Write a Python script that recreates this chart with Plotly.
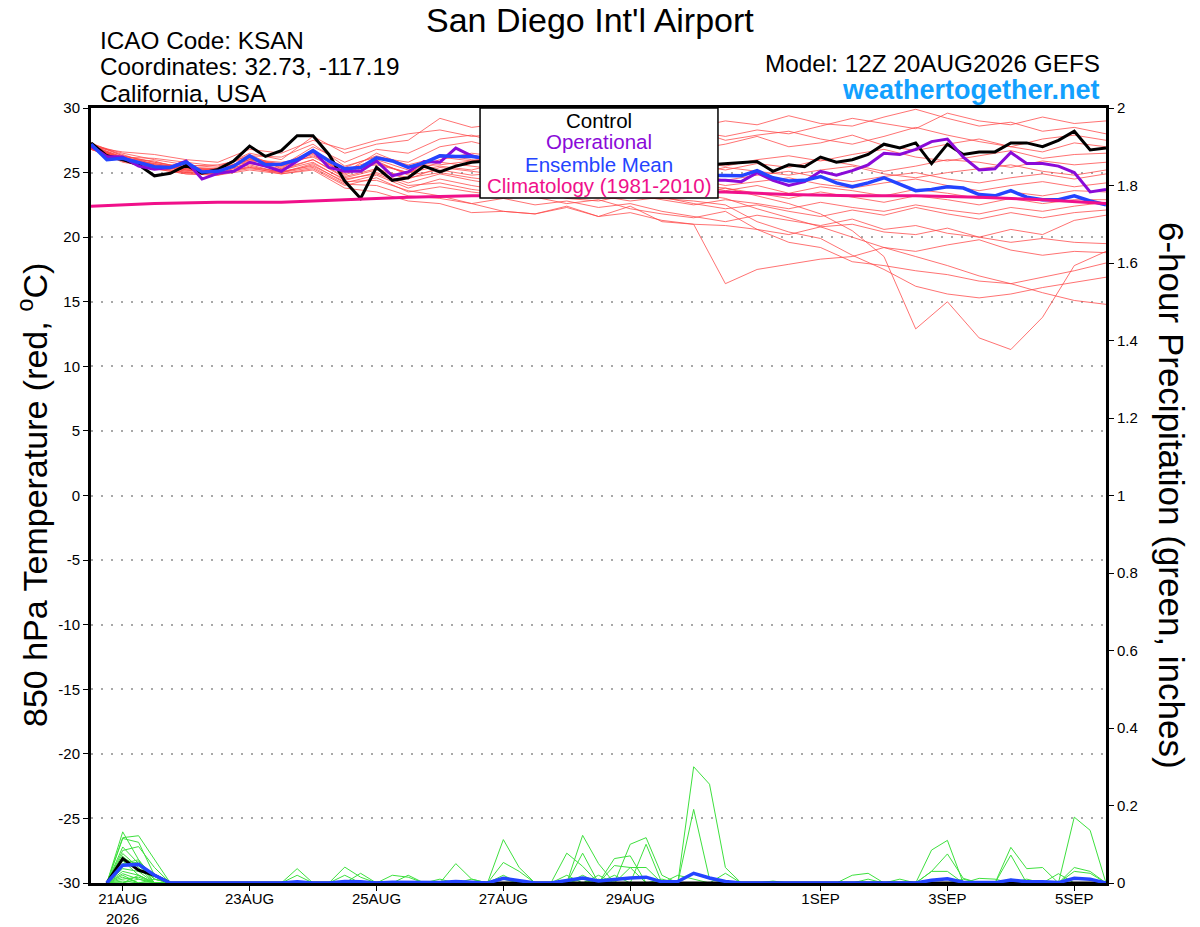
import pandas as pd
import plotly.graph_objects as go

# time axes: GEFS run 12Z 20AUG2026, 6-hourly (members drawn at 12h)
times6 = pd.date_range("2026-08-20 12:00", "2026-09-05 12:00", freq="6h")
times12 = pd.date_range("2026-08-20 12:00", "2026-09-05 12:00", freq="12h")
days = pd.date_range("2026-08-20 12:00", "2026-09-05 12:00", freq="24h")
precip_times = times6[1:]

tick_dates = ["2026-08-21", "2026-08-23", "2026-08-25", "2026-08-27",
              "2026-08-29", "2026-09-01", "2026-09-03", "2026-09-05"]
tick_text = ["21AUG<br>2026", "23AUG", "25AUG", "27AUG", "29AUG", "1SEP", "3SEP", "5SEP"]

# 850 hPa temperature (C), 6-hourly
control_t = [27.3, 26.3, 26.0, 25.6, 24.75, 24.95, 25.55, 24.95, 25.25, 25.9, 27.05,
             26.25, 26.7, 27.85, 27.85, 26.4, 24.35, 23.0, 25.4, 24.4, 24.6, 25.5,
             25.05, 25.5, 25.8, 25.9, 26.1, 25.8, 26.3, 26.0, 25.7, 26.2, 26.4,
             26.0, 25.6, 25.9, 26.1, 25.7, 25.4, 25.6, 25.7, 25.8, 25.85, 25.1,
             25.6, 25.45, 26.2, 25.8, 26.0, 26.4, 27.2, 26.9, 27.3, 25.7, 27.2,
             26.4, 26.6, 26.6, 27.3, 27.3, 27.0, 27.5, 28.2, 26.75, 26.9]
operational_t = [27.05, 26.25, 26.2, 25.5, 25.25, 25.4, 25.9, 24.5, 24.95, 25.1, 25.8,
                 25.5, 25.1, 25.9, 26.7, 25.4, 25.1, 25.1, 25.9, 24.75, 25.05, 25.85,
                 25.8, 26.9, 26.3, 26.0, 25.7, 25.9, 25.5, 25.2, 25.6, 25.3, 24.9,
                 25.1, 24.8, 24.6, 24.9, 24.5, 24.7, 24.4, 24.4, 24.3, 25.0, 24.4,
                 24.0, 24.3, 25.1, 24.8, 25.15, 25.6, 26.5, 26.4, 26.8, 27.4, 27.6,
                 26.2, 25.2, 25.3, 26.55, 25.7, 25.7, 25.5, 25.0, 23.5, 23.7]
mean_t = [27.2, 26.0, 26.1, 25.8, 25.45, 25.4, 25.8, 25.05, 25.1, 25.5, 26.3,
          25.6, 25.65, 26.0, 26.7, 25.9, 25.3, 25.4, 26.15, 25.9, 25.4, 25.75,
          26.3, 26.25, 26.25, 26.1, 25.9, 26.0, 25.8, 25.6, 25.7, 25.5, 25.3,
          25.4, 25.2, 25.1, 25.2, 24.9, 25.0, 24.8, 24.8, 24.75, 25.15, 24.6,
          24.35, 24.4, 24.7, 24.2, 23.9, 24.2, 24.6, 24.1, 23.6, 23.7, 23.9,
          23.8, 23.3, 23.2, 23.6, 23.1, 22.9, 22.9, 23.2, 22.8, 22.5]
# climatology (1981-2010), daily at 12Z
climo_t = [22.4, 22.6, 22.7, 22.7, 22.9, 23.1, 23.2, 23.2, 23.3, 23.5, 23.5,
           23.3, 23.2, 23.2, 23.1, 22.9, 22.6]

# ensemble members, 12-hourly
members_t = [
    [27.2, 26.5, 26.0, 25.6, 25.4, 26.5, 26.0, 27.8, 26.5, 27.2, 27.5,
     29.2, 28.5, 28.8, 28.2, 28.0, 28.6, 28.3, 27.9, 28.5, 29.0, 28.7,
     29.4, 28.8, 28.6, 29.3, 29.9, 29.2, 28.6, 28.9, 28.2, 28.5, 28.0],
    [27.0, 26.6, 26.4, 26.0, 25.8, 26.8, 26.5, 27.5, 26.8, 27.5, 28.0,
     28.3, 27.8, 28.0, 28.5, 27.6, 27.9, 28.4, 28.9, 28.2, 27.8, 28.3,
     28.0, 28.6, 29.2, 28.8, 28.4, 29.6, 29.0, 28.7, 29.3, 28.8, 29.0],
    [27.3, 26.3, 25.8, 25.4, 25.2, 26.0, 25.5, 27.0, 25.8, 26.8, 26.5,
     27.6, 27.9, 27.2, 27.8, 28.4, 28.0, 27.4, 27.8, 28.3, 27.5, 27.9,
     28.2, 27.6, 27.2, 27.8, 28.5, 27.9, 27.4, 27.0, 27.6, 27.9, 27.5],
    [26.9, 26.2, 26.1, 25.8, 25.5, 26.3, 26.2, 27.2, 25.5, 26.2, 25.8,
     27.0, 27.4, 26.8, 27.3, 27.0, 27.5, 26.9, 27.3, 26.8, 27.2, 27.8,
     27.0, 27.3, 27.9, 27.1, 26.7, 27.2, 27.6, 27.0, 26.6, 27.3, 27.0],
    [27.1, 26.0, 25.7, 25.3, 25.0, 26.2, 25.6, 26.5, 25.2, 26.0, 25.2,
     26.0, 26.5, 26.2, 26.8, 26.4, 26.0, 26.6, 26.2, 25.8, 25.5, 26.0,
     26.3, 25.9, 26.4, 26.8, 26.2, 25.9, 26.3, 26.7, 26.1, 26.4, 26.5],
    [26.8, 25.9, 25.5, 25.1, 25.3, 26.4, 25.3, 26.8, 24.8, 25.8, 24.9,
     26.4, 26.0, 25.7, 26.2, 25.5, 25.8, 25.4, 25.9, 25.6, 25.2, 25.7,
     25.4, 26.0, 25.6, 25.1, 25.5, 26.0, 25.8, 25.4, 25.9, 25.6, 25.8],
    [27.0, 26.1, 25.9, 25.2, 25.1, 26.0, 25.8, 26.2, 25.0, 26.5, 25.5,
     25.6, 25.9, 26.3, 25.8, 26.1, 25.5, 25.0, 25.3, 24.9, 25.4, 25.1,
     24.8, 25.2, 25.5, 24.9, 24.6, 25.0, 25.3, 25.6, 25.1, 24.8, 25.2],
    [27.2, 26.4, 25.6, 25.5, 25.6, 26.1, 25.4, 26.6, 25.3, 25.6, 25.0,
     25.8, 25.5, 25.2, 25.6, 25.0, 24.8, 25.2, 24.6, 24.9, 24.4, 24.8,
     25.1, 24.6, 24.3, 24.7, 25.0, 24.5, 24.2, 24.6, 24.9, 24.5, 24.9],
    [26.9, 26.0, 25.4, 25.0, 24.9, 25.8, 25.2, 26.0, 24.6, 25.2, 24.5,
     25.4, 25.1, 24.8, 25.3, 24.9, 24.4, 24.8, 24.2, 24.5, 24.0, 24.3,
     24.6, 24.1, 23.8, 24.2, 24.5, 24.0, 23.6, 24.0, 24.3, 23.9, 24.2],
    [27.1, 26.2, 25.7, 25.3, 25.2, 25.9, 25.7, 26.4, 24.9, 25.9, 24.8,
     25.2, 24.8, 25.0, 24.6, 24.9, 24.2, 24.5, 23.8, 24.1, 23.6, 24.0,
     23.4, 23.9, 23.6, 23.2, 23.7, 23.4, 23.0, 23.5, 23.2, 23.6, 23.5],
    [27.0, 25.9, 25.3, 24.9, 24.8, 25.5, 25.0, 25.6, 24.2, 24.8, 23.8,
     24.5, 24.0, 23.6, 24.1, 23.8, 23.4, 23.9, 23.6, 23.3, 23.8, 23.4,
     23.0, 23.5, 23.1, 22.7, 23.2, 22.9, 22.5, 23.0, 22.6, 22.9, 22.9],
    [26.8, 26.0, 25.5, 25.2, 25.0, 25.4, 24.9, 25.3, 24.0, 24.6, 23.5,
     23.9, 23.5, 23.2, 23.6, 23.0, 22.8, 23.3, 22.9, 22.5, 22.9, 22.6,
     22.2, 22.7, 22.3, 22.0, 22.5, 22.1, 21.8, 22.3, 22.0, 22.4, 22.7],
    [27.1, 26.1, 25.6, 25.1, 25.1, 25.7, 25.2, 25.8, 24.4, 25.0, 24.2,
     24.9, 24.4, 24.0, 23.8, 23.5, 23.2, 22.8, 23.1, 22.6, 22.2, 22.5,
     22.0, 21.6, 22.1, 21.7, 22.3, 21.8, 21.4, 21.9, 21.5, 21.9, 22.1],
    [26.9, 25.8, 25.4, 25.0, 24.9, 25.3, 25.0, 25.4, 24.1, 24.0, 23.2,
     23.0, 22.6, 23.0, 22.5, 22.8, 22.3, 22.6, 22.0, 21.6, 21.2, 21.7,
     21.3, 20.9, 21.4, 20.6, 20.9, 20.3, 20.0, 20.6, 20.2, 21.3, 21.7],
    [27.0, 26.0, 25.3, 24.9, 24.8, 25.2, 24.9, 25.2, 23.8, 23.5, 22.8,
     22.6, 21.9, 22.0, 21.8, 22.4, 21.6, 22.4, 21.2, 21.0, 20.9, 20.6,
     20.2, 20.8, 21.0, 20.4, 20.2, 20.7, 20.0, 19.6, 19.9, 19.6, 19.5],
    [26.9, 25.9, 25.4, 25.0, 24.9, 25.4, 25.1, 25.5, 24.3, 24.4, 23.6,
     23.2, 22.6, 22.0, 21.8, 22.3, 21.6, 21.9, 21.3, 21.0, 16.4, 17.5,
     17.9, 18.3, 18.5, 19.2, 18.9, 19.4, 19.8, 19.0, 18.6, 18.9, 18.8],
    [27.0, 26.1, 25.5, 25.2, 25.0, 25.6, 25.0, 25.7, 24.5, 24.9, 24.0,
     24.2, 23.7, 23.4, 23.1, 22.6, 22.9, 22.2, 21.8, 21.5, 22.0, 20.6,
     19.6, 19.2, 18.1, 17.8, 17.4, 17.1, 16.6, 16.4, 16.9, 17.4, 18.0],
    [27.2, 26.3, 25.8, 25.4, 25.3, 25.8, 25.3, 26.0, 24.7, 25.3, 24.6,
     25.0, 24.6, 24.3, 24.7, 24.1, 23.8, 23.2, 23.0, 22.8, 22.5, 21.2,
     20.4, 19.9, 18.6, 17.5, 16.2, 15.6, 15.3, 15.6, 16.1, 16.5, 16.9],
    [27.1, 26.2, 25.6, 25.3, 25.2, 26.1, 25.5, 26.3, 25.1, 25.7, 25.0,
     25.5, 25.2, 25.8, 25.4, 25.0, 24.6, 25.1, 24.4, 24.0, 23.8, 23.2,
     22.6, 21.8, 20.5, 18.5, 12.9, 15.0, 12.2, 11.3, 13.8, 17.8, 18.9],
    [26.8, 26.1, 25.5, 25.4, 25.3, 26.0, 25.6, 26.7, 25.4, 26.3, 25.6,
     26.2, 25.9, 26.4, 25.7, 25.3, 24.8, 24.2, 23.6, 23.4, 23.0, 22.2,
     21.5, 20.8, 20.0, 19.2, 18.5, 17.8, 17.0, 16.4, 15.7, 15.1, 14.8],
]

# 6-hour precipitation (inches), 20AUG 18Z .. 5SEP 12Z
control_p = [0, 0.063, 0.033, 0.02, 0, 0, 0, 0,
             0, 0, 0, 0, 0, 0, 0, 0,
             0, 0, 0, 0, 0, 0, 0, 0,
             0, 0, 0, 0, 0, 0, 0, 0,
             0, 0, 0, 0, 0, 0, 0, 0,
             0, 0, 0, 0, 0, 0, 0, 0,
             0, 0, 0, 0, 0, 0, 0, 0,
             0, 0, 0, 0, 0, 0, 0, 0]
mean_p = [0, 0.046, 0.048, 0.02, 0, 0, 0, 0,
          0, 0, 0, 0, 0.003, 0, 0, 0.004,
          0.003, 0, 0.002, 0.002, 0, 0.001, 0.004, 0.001,
          0, 0.012, 0.005, 0, 0, 0.006, 0.013, 0.005,
          0.01, 0.013, 0.015, 0.003, 0.004, 0.025, 0.013, 0.004,
          0, 0, 0, 0, 0, 0, 0, 0.002,
          0.002, 0, 0.001, 0, 0.007, 0.011, 0.002, 0.001,
          0.001, 0.008, 0.003, 0.003, 0.001, 0.012, 0.01, 0]
# members: only the non-zero 6h steps (step number -> inches)
members_p = [
    {2: 0.132, 3: 0.06, 4: 0.01, 26: 0.112, 27: 0.04},
    {2: 0.117, 3: 0.122, 4: 0.06, 34: 0.10, 35: 0.117, 36: 0.02, 38: 0.30, 39: 0.255, 40: 0.04},
    {2: 0.115, 3: 0.105, 4: 0.02, 31: 0.123, 32: 0.05, 62: 0.17, 63: 0.136},
    {2: 0.093, 3: 0.05, 13: 0.037, 31: 0.077, 33: 0.063, 34: 0.07, 38: 0.19, 39: 0.01},
    {2: 0.084, 3: 0.094, 4: 0.04, 16: 0.041, 17: 0.015, 53: 0.085, 54: 0.11},
    {2: 0.076, 3: 0.04, 26: 0.053, 27: 0.03, 58: 0.092, 59: 0.037, 60: 0.04},
    {2: 0.069, 3: 0.03, 4: 0.02, 30: 0.077, 31: 0.043, 35: 0.10, 40: 0.025},
    {2: 0.058, 3: 0.02, 19: 0.02, 20: 0.015, 53: 0.03, 54: 0.075, 55: 0.012},
    {2: 0.05, 3: 0.06, 23: 0.05, 24: 0.01, 58: 0.072, 62: 0.04, 63: 0.03},
    {2: 0.037, 3: 0.03, 17: 0.025, 33: 0.045, 34: 0.04, 35: 0.04, 48: 0.02, 49: 0.025},
    {2: 0.024, 3: 0.01, 30: 0.02, 32: 0.02, 36: 0.01, 62: 0.03, 63: 0.025},
    {2: 0.015, 4: 0.01, 13: 0.02, 22: 0.01, 53: 0.03, 54: 0.03, 56: 0.012, 57: 0.01},
    {2: 0.01, 3: 0.015, 16: 0.02, 31: 0.02, 33: 0.02, 59: 0.01, 61: 0.024},
    {2: 0.005, 26: 0.02, 37: 0.02, 38: 0.01, 51: 0.01},
    {3: 0.02, 20: 0.02, 43: 0.005, 55: 0.01},
    {2: 0.02, 24: 0.01, 34: 0.04, 58: 0.01},
    {2: 0.03, 3: 0.02, 31: 0.01, 49: 0.01},
    {3: 0.01, 26: 0.01, 32: 0.01},
    {2: 0.045, 3: 0.055, 4: 0.02},
    {2: 0.065, 3: 0.045, 4: 0.01},
]

RED = "rgba(255,70,70,0.85)"
GREEN = "#3ee03e"
BLACK = "#000000"
PURPLE = "#8a0ad8"
BLUE = "#2444ff"
MAGENTA = "#f0108a"

fig = go.Figure()

for m in members_t:
    fig.add_trace(go.Scatter(x=times12, y=m, mode="lines",
                             line=dict(color=RED, width=0.9), hoverinfo="skip"))

for ev in members_p:
    vals = [ev.get(i, 0) for i in range(1, len(times6))]
    fig.add_trace(go.Scatter(x=precip_times, y=vals, mode="lines", yaxis="y2",
                             line=dict(color=GREEN, width=1), hoverinfo="skip"))

fig.add_trace(go.Scatter(x=precip_times, y=control_p, mode="lines", yaxis="y2",
                         line=dict(color=BLACK, width=3)))
fig.add_trace(go.Scatter(x=precip_times, y=mean_p, mode="lines", yaxis="y2",
                         line=dict(color=BLUE, width=3.5)))

fig.add_trace(go.Scatter(x=times6, y=control_t, mode="lines", line=dict(color=BLACK, width=3)))
fig.add_trace(go.Scatter(x=times6, y=operational_t, mode="lines", line=dict(color=PURPLE, width=3)))
fig.add_trace(go.Scatter(x=times6, y=mean_t, mode="lines", line=dict(color=BLUE, width=3.5)))
fig.add_trace(go.Scatter(x=days, y=climo_t, mode="lines", line=dict(color=MAGENTA, width=3)))

left_ticks = list(range(-30, 31, 5))
FONT = "Liberation Sans, Arial, Helvetica, sans-serif"

fig.update_layout(
    width=1200, height=927,
    margin=dict(l=91, r=94, t=108, b=44),
    paper_bgcolor="white", plot_bgcolor="white",
    showlegend=False,
    font=dict(family=FONT, color="black", size=15),
    xaxis=dict(type="date", range=[times6[0], times6[-1]], automargin=False,
               tickvals=tick_dates, ticktext=tick_text, ticklabelstandoff=-5,
               ticks="outside", ticklen=5, tickwidth=1, tickcolor="black",
               showline=True, linewidth=3, linecolor="black", mirror=True,
               showgrid=False, tickfont=dict(size=15)),
    yaxis=dict(range=[-30, 30], tickvals=left_ticks, automargin=False,
               ticktext=[str(v) for v in left_ticks],
               ticks="outside", ticklen=5, tickwidth=1, tickcolor="black",
               showline=True, linewidth=3, linecolor="black",
               showgrid=True, gridcolor="#a8a8a8", griddash="2px,8px", gridwidth=1.5,
               zeroline=False, tickfont=dict(size=15)),
    yaxis2=dict(overlaying="y", side="right", range=[0, 2], dtick=0.2, automargin=False,
                ticks="outside", ticklen=5, tickwidth=1, tickcolor="black",
                showline=True, linewidth=3, linecolor="black",
                showgrid=False, zeroline=False, tickfont=dict(size=15)),
)

# legend box
fig.add_shape(type="rect", xref="paper", yref="paper",
              x0=0.3833, x1=0.6177, y0=0.8839, y1=1.0,
              line=dict(color="black", width=1.5), fillcolor="white", layer="above")

legend_items = [("Control", BLACK, 121), ("Operational", PURPLE, 142),
                ("Ensemble Mean", BLUE, 164), ("Climatology (1981-2010)", MAGENTA, 186)]
for txt, col, py in legend_items:
    fig.add_annotation(x=0.5005, y=(883 - py) / 775, xref="paper", yref="paper",
                       text=txt, showarrow=False, xanchor="center", yanchor="middle",
                       font=dict(size=20.5, color=col))

# header texts
fig.add_annotation(x=(590 - 91) / 1015, y=(883 - 20) / 775, xref="paper", yref="paper",
                   text="San Diego Int'l Airport", showarrow=False,
                   xanchor="center", yanchor="middle", font=dict(size=34))
for txt, py in [("ICAO Code: KSAN", 40), ("Coordinates: 32.73, -117.19", 66),
                ("California, USA", 93)]:
    fig.add_annotation(x=(98 - 91) / 1015, y=(883 - py) / 775, xref="paper", yref="paper",
                       text=txt, showarrow=False, xanchor="left", yanchor="middle",
                       font=dict(size=24.3))
fig.add_annotation(x=(1102 - 91) / 1015, y=(883 - 64) / 775, xref="paper", yref="paper",
                   text="Model: 12Z 20AUG2026 GEFS", showarrow=False,
                   xanchor="right", yanchor="middle", font=dict(size=24.3))
fig.add_annotation(x=(1102 - 91) / 1015, y=(883 - 90) / 775, xref="paper", yref="paper",
                   text="<b>weathertogether.net</b>", showarrow=False,
                   xanchor="right", yanchor="middle", font=dict(size=27, color="#12a0ff"))

# axis titles
fig.add_annotation(x=(32 - 91) / 1015, y=(883 - 495) / 775, xref="paper", yref="paper",
                   text="850 hPa Temperature (red, <sup>o</sup>C)", showarrow=False,
                   textangle=-90, xanchor="center", yanchor="middle", font=dict(size=34))
fig.add_annotation(x=(1172 - 91) / 1015, y=(883 - 495) / 775, xref="paper", yref="paper",
                   text="6-hour Precipitation (green, inches)", showarrow=False,
                   textangle=90, xanchor="center", yanchor="middle", font=dict(size=35))

fig.write_html("out.html", config={"displayModeBar": False},
               post_script="document.body.style.margin='0';")
